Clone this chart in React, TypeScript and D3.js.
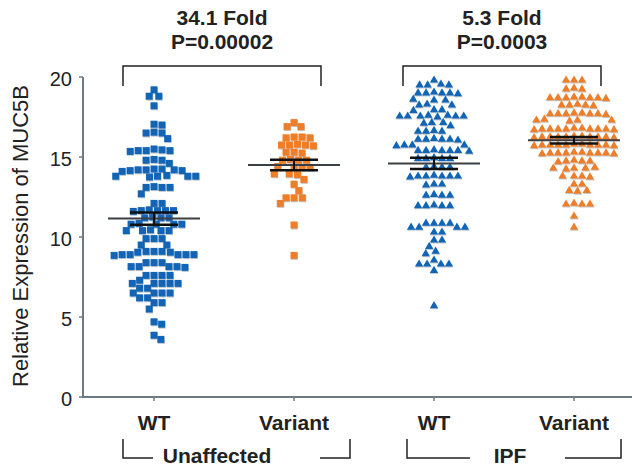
import React from 'react';
import * as d3 from 'd3';

const groups = ['Unaffected WT', 'Unaffected Variant', 'IPF WT', 'IPF Variant'];
const tickLabels = ['WT', 'Variant', 'WT', 'Variant'];
const cohorts = ['Unaffected', 'IPF'];
const foldLabels = ['34.1 Fold', '5.3 Fold'];
const pLabels = ['P=0.00002', 'P=0.0003'];
const yTicks = [0, 5, 10, 15, 20];

// relative expression values
const unaffectedWT = [
  19.2, 18.8, 18.8, 18.2, 17.0, 17.05, 16.5, 16.5, 16.55, 16.15,
  15.5, 15.45, 15.4, 15.4, 15.35, 15.4, 14.8, 14.8, 14.85, 14.6,
  14.25, 14.2, 14.2, 14.15, 14.2, 14.25, 14.1, 14.15,
  13.8, 13.8, 13.75, 13.8, 13.85, 13.8, 13.1, 13.1, 13.15, 13.1, 12.7, 12.1, 12.1,
  11.65, 11.65, 11.7, 11.65, 11.6, 11.65, 11.2, 11.2, 11.25, 11.2,
  10.8, 10.8, 10.85, 10.8, 10.8, 10.4, 10.4, 10.45, 10.4, 10.4, 9.9, 9.9, 9.9, 9.5, 9.5,
  9.1, 9.1, 9.1, 9.05, 9.05, 8.9, 8.9, 8.9, 8.85, 8.9, 8.9, 8.4, 8.4, 8.4,
  8.15, 8.15, 8.15, 8.1, 8.15, 7.6, 7.6, 7.6, 7.6, 7.3, 7.1, 7.1, 7.1, 7.1, 7.1,
  6.8, 6.8, 6.5, 6.5, 6.5, 6.5, 6.2, 6.2, 5.9, 5.9, 5.5, 4.7, 4.55, 3.86, 3.6,
];
const unaffectedVariant = [
  17.15, 16.9, 16.9, 16.25, 16.2, 16.25, 16.2, 15.75, 15.75, 15.8, 15.75, 15.7,
  15.3, 15.3, 15.25, 14.8, 14.8, 14.85, 14.8, 14.35, 14.35, 14.4, 14.35,
  13.95, 13.95, 13.9, 13.6, 13.3, 12.9, 12.45, 12.45, 12.45, 12.1, 10.75, 8.85,
];
const ipfWT = [
  19.8, 19.5, 19.5, 19.55, 19.5, 19.0, 19.0, 19.05, 19.0, 18.95, 19.0,
  18.55, 18.55, 18.6, 18.25, 18.25, 18.3, 17.95, 17.95, 17.9,
  17.55, 17.55, 17.6, 17.55, 17.55, 17.5, 17.55, 17.6,
  17.15, 17.15, 17.1, 16.95, 16.6, 16.6, 16.65, 16.6,
  16.1, 16.1, 16.15, 16.1, 16.1, 16.05, 15.75, 15.75, 15.7, 15.75,
  15.4, 15.4, 15.35, 15.4, 15.4, 15.45, 15.4, 14.9, 14.9, 14.95, 14.9, 14.9,
  14.35, 14.35, 14.4, 14.35, 13.8, 13.8, 13.85, 13.8, 13.8, 13.75, 13.8,
  13.3, 13.3, 13.25, 12.6, 12.6, 12.65, 12.6, 11.95, 11.95, 12.0, 11.95, 11.95,
  10.85, 10.85, 10.85, 10.85, 10.6, 10.6, 10.6, 10.6, 10.3, 10.3, 9.8, 9.8,
  9.4, 9.1, 8.95, 8.55, 8.3, 8.3, 8.3, 8.3, 7.9, 5.7,
];
const ipfVariant = [
  19.8, 19.8, 19.8, 19.25, 19.25, 19.3,
  18.7, 18.7, 18.75, 18.7, 18.65, 18.7, 18.7, 18.75,
  18.25, 18.2, 18.25, 18.3, 18.25,
  17.7, 17.7, 17.75, 17.7, 17.65, 17.7, 17.7, 17.75,
  17.3, 17.3, 17.25, 17.3, 17.35,
  16.75, 16.75, 16.8, 16.75, 16.7, 16.75, 16.75, 16.8, 16.75, 16.7, 16.75,
  16.25, 16.25, 16.2, 16.25, 16.3, 16.25, 16.25, 16.2, 16.25, 16.25, 16.3,
  15.75, 15.75, 15.7, 15.75, 15.8, 15.75, 15.75, 15.7, 15.75, 15.75, 15.8,
  15.25, 15.25, 15.2, 15.25, 15.3, 15.25, 15.25, 15.2, 15.25, 15.3,
  14.75, 14.75, 14.7, 14.75, 14.8, 14.3, 14.3, 14.25, 14.3, 14.35,
  13.8, 13.8, 13.75, 13.8, 13.3, 13.3, 12.9, 12.85, 12.9,
  12.05, 12.05, 12.1, 12.05, 11.3, 10.6,
];
const groupValues = [unaffectedWT, unaffectedVariant, ipfWT, ipfVariant];
const groupMeans = [11.15, 14.5, 14.6, 16.05];
const groupSEM = [0.38, 0.33, 0.35, 0.2];

const BLUE = '#1265b6';
const ORANGE = '#f07d28';
const colors = [BLUE, ORANGE, BLUE, ORANGE];
const shapes = ['square', 'square', 'triangle', 'triangle'];

function swarm(values: number[], y: (v: number) => number, d: number) {
  const pts = values.map(v => ({ v, y: y(v) })).sort((a, b) => a.y - b.y);
  const placed: { x: number; y: number }[] = [];
  for (const p of pts) {
    const near = placed.filter(q => Math.abs(q.y - p.y) < d);
    const cands = [0];
    for (const q of near) {
      const dx = Math.sqrt(d * d - (q.y - p.y) ** 2);
      cands.push(q.x + dx, q.x - dx);
    }
    cands.sort((a, b) => Math.abs(a) - Math.abs(b));
    const x = cands.find(c => near.every(q => (q.x - c) ** 2 + (q.y - p.y) ** 2 >= d * d - 0.01)) ?? 0;
    placed.push({ x, y: p.y });
  }
  return placed;
}

export default function App() {
  const W = 632, H = 466;
  const axisX = 83;
  const y = d3.scaleLinear().domain([0, 20]).range([397, 77]);
  const x = d3.scalePoint<string>().domain(groups).range([154, 574]);
  const tri = d3.symbol(d3.symbolTriangle, 30)() as string;
  const font = '"Liberation Sans", Arial, sans-serif';

  return (
    <svg width={W} height={H} style={{ position: 'absolute', left: 0, top: 0, background: '#fff' }} fontFamily={font}>
      {/* axes */}
      <line x1={axisX} x2={axisX} y1={y(20)} y2={y(0) + 1} stroke="#6e7a82" strokeWidth={2} />
      <line x1={axisX} x2={W} y1={y(0)} y2={y(0)} stroke="#6e7a82" strokeWidth={2} />
      {yTicks.map(t => (
        <g key={t}>
          <line x1={axisX - 4} x2={axisX} y1={y(t)} y2={y(t)} stroke="#6e7a82" strokeWidth={1.5} />
          <text x={axisX - 11} y={y(t) + 4} textAnchor="end" dominantBaseline="middle" fontSize={20} fill="#222">{t}</text>
        </g>
      ))}
      <text transform={`translate(22,236) rotate(-90)`} textAnchor="middle" dominantBaseline="middle" fontSize={22} fill="#222">
        Relative Expression of MUC5B
      </text>

      {groups.map((g, i) => (
        <g key={g}>
          <line x1={x(g)} x2={x(g)} y1={y(0)} y2={y(0) + 4} stroke="#6e7a82" strokeWidth={1.5} />
          <text x={x(g)} y={430} textAnchor="middle" fontSize={21} fontWeight="bold" fill="#222">{tickLabels[i]}</text>
        </g>
      ))}

      {/* points */}
      {groupValues.map((vals, gi) => {
        const cx = x(groups[gi]) as number;
        return swarm(vals, y, 8).map((p, i) => (
          shapes[gi] === 'square' ? (
            <g key={`${gi}-${i}`}>
              <rect x={cx + p.x - 3.5 + 0.5} y={p.y - 3.5 + 1} width={7} height={7} fill="#9aa4aa" opacity={0.6} />
              <rect x={cx + p.x - 3.5} y={p.y - 3.5} width={7} height={7} fill={colors[gi]} />
            </g>
          ) : (
            <g key={`${gi}-${i}`}>
              <path d={tri} transform={`translate(${cx + p.x + 0.5},${p.y + 1})`} fill="#9aa4aa" opacity={0.6} />
              <path d={tri} transform={`translate(${cx + p.x},${p.y})`} fill={colors[gi]} />
            </g>
          )
        ));
      })}

      {/* mean and SEM */}
      {groups.map((g, i) => {
        const cx = x(g) as number;
        const m = groupMeans[i], s = groupSEM[i];
        return (
          <g key={g}>
            <line x1={cx - 46} x2={cx + 46} y1={y(m)} y2={y(m)} stroke="#3a3f44" strokeWidth={2} />
            <line x1={cx} x2={cx} y1={y(m + s)} y2={y(m - s)} stroke="#111" strokeWidth={2} />
            <line x1={cx - 24} x2={cx + 24} y1={y(m + s)} y2={y(m + s)} stroke="#111" strokeWidth={2.5} />
            <line x1={cx - 24} x2={cx + 24} y1={y(m - s)} y2={y(m - s)} stroke="#111" strokeWidth={2.5} />
          </g>
        );
      })}

      {/* comparison brackets */}
      {[0, 1].map(k => {
        const l = (x(groups[k * 2]) as number) - 31;
        const r = (x(groups[k * 2 + 1]) as number) + 27;
        const c = (l + r) / 2;
        return (
          <g key={k}>
            <path d={`M${l},86V66H${r}V86`} fill="none" stroke="#222" strokeWidth={1.5} />
            <text x={c} y={25} textAnchor="middle" fontSize={21} fontWeight="bold" fill="#222">{foldLabels[k]}</text>
            <text x={c} y={49} textAnchor="middle" fontSize={21} fontWeight="bold" fill="#222">{pLabels[k]}</text>
          </g>
        );
      })}

      {/* cohort brackets */}
      {[0, 1].map(k => {
        const l = (x(groups[k * 2]) as number) - (k === 0 ? 31 : 27);
        const r = (x(groups[k * 2 + 1]) as number) + (k === 0 ? 56 : 47);
        const tc = k === 0 ? 217 : 510;
        const half = k === 0 ? 64 : 40;
        return (
          <g key={k}>
            <path d={`M${l},439V458H${tc - half}`} fill="none" stroke="#222" strokeWidth={1.5} />
            <path d={`M${tc + half + (k === 0 ? 39 : 15)},458H${r}V439`} fill="none" stroke="#222" strokeWidth={1.5} />
            <text x={tc} y={463} textAnchor="middle" fontSize={21} fontWeight="bold" fill="#222">{cohorts[k]}</text>
          </g>
        );
      })}
    </svg>
  );
}
